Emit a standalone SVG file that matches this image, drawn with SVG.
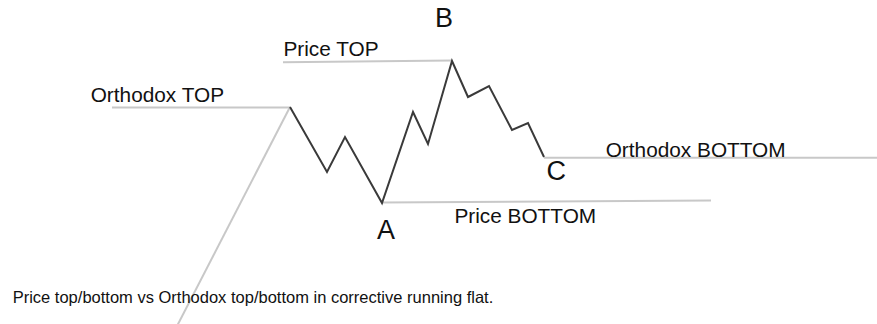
<svg xmlns="http://www.w3.org/2000/svg" width="877" height="324" viewBox="0 0 877 324">
  <style>
    .guide { stroke: #c8c8c8; stroke-width: 2; fill: none; }
    .price { stroke: #3a3a3a; stroke-width: 2; fill: none; stroke-linejoin: miter; }
    .lbl { font-family: "Liberation Sans", Arial, sans-serif; font-size: 20.8px; fill: #111; }
    .pt { font-family: "Liberation Sans", Arial, sans-serif; font-size: 27px; fill: #111; }
    .cap { font-family: "Liberation Sans", Arial, sans-serif; font-size: 16.5px; fill: #111; }
  </style>
  <rect width="877" height="324" fill="#ffffff"/>
  <g id="guides">
    <line class="guide" x1="290" y1="107" x2="176" y2="328"/>
    <line class="guide" x1="112" y1="107.5" x2="290" y2="107.5"/>
    <line class="guide" x1="283" y1="62.3" x2="452" y2="60.5"/>
    <line class="guide" x1="382" y1="202.5" x2="711" y2="200.5"/>
    <line class="guide" x1="544" y1="157.7" x2="877" y2="157.7"/>
  </g>
  <g id="price-path">
    <polyline class="price" points="290,107 327,172 345,137 382,203 413,112 428,144 452,61 468,97 489,86 512,130 528,123 544,157"/>
  </g>
  <g id="labels">
    <text class="lbl" x="90.7" y="102.3">Orthodox TOP</text>
    <text class="lbl" x="283.4" y="56">Price TOP</text>
    <text class="lbl" x="454.4" y="223.3">Price BOTTOM</text>
    <text class="lbl" x="605.7" y="156.7">Orthodox BOTTOM</text>
    <text class="pt" x="435" y="27.3">B</text>
    <text class="pt" x="377" y="239.3">A</text>
    <text class="pt" x="546.5" y="180">C</text>
    <text class="cap" x="12.7" y="302.7">Price top/bottom vs Orthodox top/bottom in corrective running flat.</text>
  </g>
</svg>
